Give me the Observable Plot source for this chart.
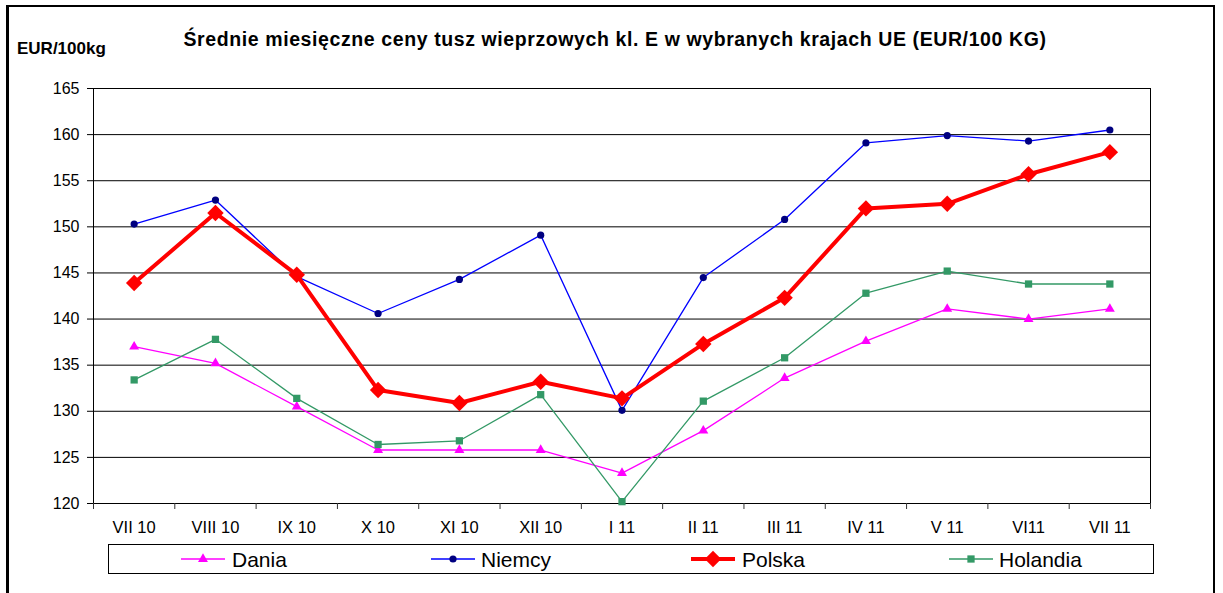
<!DOCTYPE html>
<html>
<head>
<meta charset="utf-8">
<script src="https://cdn.jsdelivr.net/npm/d3@7"></script>
<script src="https://cdn.jsdelivr.net/npm/@observablehq/plot@0.6"></script>
<style>
  html, body { margin: 0; padding: 0; background: #fff; }
  #wrap { position: relative; width: 1223px; height: 593px; overflow: hidden; font-family: "Liberation Sans", Arial, sans-serif; }
  #frame { position: absolute; left: 6px; top: 5px; width: 1209px; height: 620px; border: 2px solid #000; border-left-width: 3px; box-sizing: border-box; }
  #chart { position: absolute; left: 0; top: 0; }
  .txt { position: absolute; line-height: 1; white-space: nowrap; color: #000; }
  #title { left: 0; width: 1230px; text-align: center; top: 30px; font-size: 19.5px; letter-spacing: 0.6px; font-weight: bold; }
  #unit { left: 17px; top: 40px; font-size: 17px; font-weight: bold; }
  #legend { position: absolute; left: 108px; top: 544px; width: 1046px; height: 30px; border: 1px solid #000; box-sizing: border-box; background: #fff; }
  .item { position: absolute; top: 0; height: 28px; }
  .item svg { position: absolute; left: 0; top: 0; }
  .item span { position: absolute; top: 4px; font-size: 21px; line-height: 1; white-space: nowrap; }
</style>
</head>
<body>
<div id="wrap">
  <div id="frame"></div>
  <div id="chart"></div>
  <div id="title" class="txt">Średnie miesięczne ceny tusz wieprzowych kl. E w wybranych krajach UE (EUR/100 KG)</div>
  <div id="unit" class="txt">EUR/100kg</div>
  <div id="legend"></div>
</div>
<script>
// ---- data ----
const months = ["VII 10", "VIII 10", "IX 10", "X 10", "XI 10", "XII 10", "I 11", "II 11", "III 11", "IV 11", "V 11", "VI11", "VII 11"];
const dania    = [137.0, 135.2, 130.5, 125.8, 125.8, 125.8, 123.3, 127.9, 133.6, 137.6, 141.1, 140.0, 141.1];
const niemcy   = [150.3, 152.9, 144.6, 140.6, 144.3, 149.1, 130.1, 144.5, 150.8, 159.1, 159.9, 159.3, 160.5];
const polska   = [143.9, 151.5, 144.8, 132.3, 130.9, 133.2, 131.4, 137.3, 142.3, 152.0, 152.5, 155.7, 158.1];
const holandia = [133.4, 137.8, 131.4, 126.4, 126.8, 131.8, 120.2, 131.1, 135.8, 142.8, 145.2, 143.8, 143.8];
const yTicks = [120, 125, 130, 135, 140, 145, 150, 155, 160, 165];
const seriesNames = ["Dania", "Niemcy", "Polska", "Holandia"];

// ---- styles ----
const styles = {
  Dania:    {values: dania,    line: "#FF00FF", marker: "#FF00FF", width: 1.3, symbol: d3.symbolTriangle, r: 3.7},
  Niemcy:   {values: niemcy,   line: "#0000FF", marker: "#000080", width: 1.3, symbol: d3.symbolCircle,   r: 3.6},
  Polska:   {values: polska,   line: "#FF0000", marker: "#FF0000", width: 4,   symbol: d3.symbolDiamond2, r: 7.4},
  Holandia: {values: holandia, line: "#339966", marker: "#339966", width: 1.3, symbol: d3.symbolSquare,   r: 4.1}
};

const rows = s => styles[s].values.map((v, i) => ({i, v}));
const boundaries = d3.range(months.length + 1).map(k => k - 0.5);

const marks = [
  Plot.ruleY(yTicks, {stroke: "#000", strokeWidth: 1}),
  Plot.frame({stroke: "#000"}),
  Plot.axisY({ticks: yTicks, tickSize: 6, tickPadding: 8, fontSize: 16, label: null, fill: "#000"}),
  Plot.axisX({ticks: boundaries, tickSize: 6, tickFormat: () => "", label: null, stroke: "#333"}),
  Plot.axisX({ticks: d3.range(months.length), tickSize: 0, tickPadding: 18, tickFormat: i => months[i], fontSize: 16.5, label: null})
];
for (const s of seriesNames) {
  const st = styles[s];
  marks.push(Plot.line(rows(s), {x: "i", y: "v", stroke: st.line, strokeWidth: st.width, strokeLinejoin: "round"}));
  marks.push(Plot.dot(rows(s), {x: "i", y: "v", symbol: st.symbol, r: st.r, fill: st.marker, stroke: "none"}));
}

const chart = Plot.plot({
  width: 1223,
  height: 593,
  marginLeft: 93,
  marginRight: 73,
  marginTop: 88,
  marginBottom: 90,
  style: {fontFamily: "Liberation Sans, Arial, sans-serif", color: "#000", background: "transparent"},
  x: {domain: [-0.5, months.length - 0.5]},
  y: {domain: [120, 165]},
  marks
});
document.getElementById("chart").appendChild(chart);

// ---- legend ----
const legendPos = {Dania: [72, 123], Niemcy: [322, 372], Polska: [582, 633], Holandia: [840, 890]};
const legend = document.getElementById("legend");
for (const s of seriesNames) {
  const st = styles[s];
  const [x0, tx] = legendPos[s];
  const item = document.createElement("div");
  item.className = "item";
  item.style.left = x0 + "px";
  const w = 44;
  const sym = d3.symbol(st.symbol, Math.PI * st.r * st.r)();
  item.innerHTML = `<svg width="${w}" height="28"><line x1="0" x2="${w}" y1="14" y2="14" stroke="${st.line}" stroke-width="${st.width === 4 ? 4 : 1.5}"/><path transform="translate(${w/2},14)" d="${sym}" fill="${st.marker}"/></svg><span style="left:${tx - x0}px">${s}</span>`;
  legend.appendChild(item);
}
</script>
</body>
</html>
